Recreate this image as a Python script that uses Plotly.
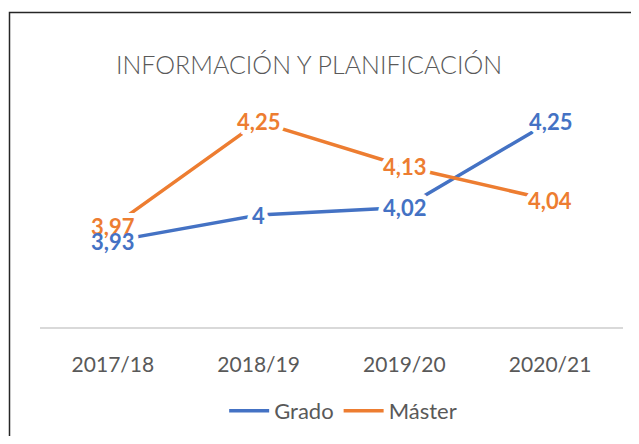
import math
import plotly.graph_objects as go

categories = ["2017/18", "2018/19", "2019/20", "2020/21"]
grado = [3.93, 4.00, 4.02, 4.25]
master = [3.97, 4.25, 4.13, 4.04]
series_names = ["Grado", "Máster"]
title_text = "INFORMACIÓN Y PLANIFICACIÓN"

BLUE = "#4472C4"
ORANGE = "#ED7D31"
GRAY = "#595959"
FONT = "Lato, Liberation Sans, sans-serif"

# page body has an 8px margin: figure is drawn at (8, 8); keep it inside the window
W, H = 623, 428

# white halo around label text (masks the lines like Excel's label boxes)
halo = ", ".join(
    f"{r * math.cos(a * math.pi / 8):.1f}px {r * math.sin(a * math.pi / 8):.1f}px 0 white"
    for r in (2, 4, 5) for a in range(16)
)


def fmt(v):
    s = f"{v:.2f}".rstrip("0").rstrip(".")
    return s.replace(".", ",")


fig = go.Figure()
for name, vals, col in [(series_names[0], grado, BLUE), (series_names[1], master, ORANGE)]:
    fig.add_trace(go.Scatter(
        x=categories, y=vals, name=name, mode="lines",
        line=dict(color=col, width=3.5),
        hoverinfo="skip",
    ))

annotations = []
# first pass: white halos only
for vals in (master, grado):
    for c, v in zip(categories, vals):
        annotations.append(dict(
            x=c, y=v, xref="x", yref="y", text=fmt(v), showarrow=False,
            font=dict(family=FONT, size=22, color="white", weight="bold", shadow=halo),
            xanchor="center", yanchor="middle",
        ))
# second pass: coloured label text
for vals, col in [(master, ORANGE), (grado, BLUE)]:
    for c, v in zip(categories, vals):
        annotations.append(dict(
            x=c, y=v, xref="x", yref="y", text=fmt(v), showarrow=False,
            font=dict(family=FONT, size=22, color=col, weight="bold"),
            xanchor="center", yanchor="middle",
        ))

# chart-area frame (left and top edges visible; the rest lies outside the window)
bx0 = (1.5 - 32) / 583
bx1 = (700 - 32) / 583
by0 = (319 - 500) / 224
by1 = (319 - 4.5) / 224

fig.update_layout(
    width=W, height=H,
    margin=dict(l=32, r=8, t=95, b=109, autoexpand=False),
    paper_bgcolor="white", plot_bgcolor="white",
    title=dict(text=title_text, x=301 / W, xanchor="center", y=1 - 57 / H, yanchor="middle",
               font=dict(family=FONT, size=25, color=GRAY, weight=300)),
    showlegend=True,
    legend=dict(orientation="h", x=0.52, xanchor="center", y=-0.375, yanchor="middle",
                font=dict(family=FONT, size=22, color=GRAY), itemwidth=40),
    annotations=annotations,
    xaxis=dict(showgrid=False, showline=True, linecolor="#D9D9D9", linewidth=1.5,
               range=[-0.5, 3.5],
               ticks="outside", ticklen=18, tickcolor="rgba(0,0,0,0)",
               tickfont=dict(family=FONT, size=21, color=GRAY), zeroline=False,
               fixedrange=True),
    yaxis=dict(range=[3.7, 4.3], visible=False, showgrid=False, zeroline=False),
    shapes=[dict(type="path", xref="paper", yref="paper",
                 path=f"M {bx0},{by0} L {bx0},{by1} L {bx1},{by1}",
                 line=dict(color="#262626", width=1.5), layer="below")],
)

fig.write_html("out.html")
